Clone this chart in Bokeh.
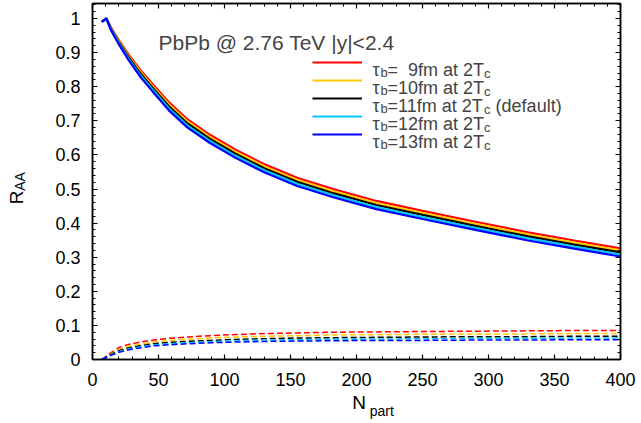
from bokeh.plotting import figure
from bokeh.models import Range1d, LinearAxis, FixedTicker, Label, Legend, LegendItem
from bokeh.embed import file_html
from bokeh.resources import INLINE

# ---------------- data ----------------
npart = [7, 10.5, 14, 20, 27, 36, 46, 58, 72, 89, 108, 130, 155, 183, 215, 250, 290, 330, 365, 400]

raa_09 = [0.990, 1.000, 0.974, 0.936, 0.896, 0.850, 0.806, 0.754, 0.704, 0.659, 0.616, 0.573, 0.533, 0.499, 0.465, 0.436, 0.404, 0.373, 0.349, 0.326]
raa_10 = [0.990, 1.000, 0.972, 0.933, 0.892, 0.845, 0.800, 0.748, 0.698, 0.653, 0.610, 0.567, 0.527, 0.493, 0.459, 0.430, 0.398, 0.367, 0.343, 0.320]
raa_11 = [0.990, 1.000, 0.970, 0.930, 0.888, 0.840, 0.795, 0.742, 0.692, 0.647, 0.604, 0.561, 0.521, 0.487, 0.453, 0.424, 0.392, 0.361, 0.337, 0.314]
raa_12 = [0.990, 1.000, 0.968, 0.927, 0.884, 0.835, 0.790, 0.736, 0.686, 0.641, 0.598, 0.555, 0.515, 0.481, 0.447, 0.418, 0.386, 0.355, 0.331, 0.308]
raa_13 = [0.990, 1.000, 0.966, 0.924, 0.880, 0.830, 0.784, 0.730, 0.680, 0.635, 0.592, 0.549, 0.509, 0.475, 0.441, 0.412, 0.380, 0.349, 0.325, 0.302]

reg_09 = [0.000, 0.010, 0.020, 0.035, 0.044, 0.051, 0.057, 0.062, 0.066, 0.070, 0.073, 0.076, 0.078, 0.080, 0.081, 0.082, 0.083, 0.084, 0.085, 0.085]
reg_10 = [0.000, 0.008, 0.017, 0.030, 0.039, 0.045, 0.051, 0.056, 0.059, 0.063, 0.066, 0.068, 0.070, 0.072, 0.073, 0.074, 0.075, 0.075, 0.076, 0.076]
reg_11 = [0.000, 0.007, 0.015, 0.026, 0.034, 0.040, 0.046, 0.050, 0.053, 0.056, 0.059, 0.061, 0.063, 0.064, 0.065, 0.066, 0.067, 0.067, 0.068, 0.068]
reg_12 = [0.000, 0.006, 0.013, 0.023, 0.031, 0.037, 0.043, 0.046, 0.049, 0.052, 0.055, 0.057, 0.058, 0.059, 0.060, 0.061, 0.062, 0.062, 0.063, 0.063]
reg_13 = [0.000, 0.006, 0.012, 0.021, 0.028, 0.034, 0.040, 0.043, 0.046, 0.049, 0.051, 0.053, 0.054, 0.055, 0.056, 0.056, 0.057, 0.057, 0.058, 0.058]

series_colors = ["#ff0000", "#ffc800", "#000000", "#00c8ff", "#0000ff"]
series_tau = ["\u00a0\u00a09", "10", "11", "12", "13"]
series_extra = ["", "", "\u00a0(default)", "", ""]

x_ticks = [0, 50, 100, 150, 200, 250, 300, 350, 400]
x_tick_labels = ["0", "50", "100", "150", "200", "250", "300", "350", "400"]
x_minor = list(range(0, 401, 10))
y_ticks = [0.0, 0.1, 0.2, 0.3, 0.4, 0.5, 0.6, 0.7, 0.8, 0.9, 1.0]
y_tick_labels = ["0", "0.1", "0.2", "0.3", "0.4", "0.5", "0.6", "0.7", "0.8", "0.9", "1"]
y_minor = [round(0.02 * i, 2) for i in range(53)]

title_text = "PbPb @ 2.76 TeV |y|<2.4"
x_title, x_title_sub = "N", "part"
y_title, y_title_sub = "R", "AA"

FONT = "Liberation Sans"
NB = "\u00a0"

# ---------------- figure ----------------
p = figure(width=636, height=421, x_range=Range1d(0, 400), y_range=Range1d(0, 1.044),
           output_backend="svg", toolbar_location=None,
           min_border_left=92, min_border_right=16, min_border_top=3, min_border_bottom=62)
p.xgrid.visible = False
p.ygrid.visible = False
p.outline_line_color = "black"
p.outline_line_width = 1.5
p.background_fill_color = "white"
p.border_fill_color = "white"


def style_axis(ax, ticks, minor, labels, show):
    ax.ticker = FixedTicker(ticks=ticks, minor_ticks=minor)
    ax.major_tick_in = 5
    ax.major_tick_out = 0
    ax.minor_tick_in = 3
    ax.minor_tick_out = 0
    ax.axis_line_color = "black"
    ax.axis_line_width = 1.5
    ax.major_tick_line_color = "black"
    ax.major_tick_line_width = 1.2
    ax.minor_tick_line_color = "black"
    ax.minor_tick_line_width = 1
    ax.axis_label_text_font = FONT
    ax.axis_label_text_font_style = "normal"
    ax.axis_label_text_color = "black"
    if show:
        ax.major_label_overrides = {t: l for t, l in zip(ticks, labels)}
        ax.major_label_text_font = FONT
        ax.major_label_text_font_size = "18px"
        ax.major_label_text_color = "black"
    else:
        ax.major_label_text_font_size = "0px"
        ax.major_label_standoff = 0


def blank_axis(label, size, standoff):
    ax = LinearAxis(ticker=FixedTicker(ticks=[]), axis_line_alpha=0,
                    major_tick_in=0, major_tick_out=0, minor_tick_in=0, minor_tick_out=0,
                    major_label_text_font_size="0px", major_label_standoff=0,
                    axis_label=label, axis_label_text_font=FONT,
                    axis_label_text_font_style="normal", axis_label_text_color="black",
                    axis_label_text_font_size=size, axis_label_standoff=standoff)
    return ax


xax = p.xaxis[0]
yax = p.yaxis[0]
style_axis(xax, x_ticks, x_minor, x_tick_labels, True)
style_axis(yax, y_ticks, y_minor, y_tick_labels, True)
xax.major_label_standoff = 13
yax.major_label_standoff = 12
xax.axis_label = NB + x_title
xax.axis_label_text_font_size = "19px"
xax.axis_label_standoff = 3
yax.axis_label = y_title + NB * 6
yax.axis_label_text_font_size = "19px"
yax.axis_label_standoff = 25

top_ax = LinearAxis()
right_ax = LinearAxis()
style_axis(top_ax, x_ticks, x_minor, x_tick_labels, False)
style_axis(right_ax, y_ticks, y_minor, y_tick_labels, False)
p.add_layout(top_ax, "above")
p.add_layout(right_ax, "right")
p.add_layout(blank_axis(NB * 13 + x_title_sub, "14px", -13), "below")
p.add_layout(blank_axis(y_title_sub, "14px", -24), "left")

# ---------------- curves ----------------
solid = [raa_09, raa_10, raa_11, raa_12, raa_13]
dashed = [reg_09, reg_10, reg_11, reg_12, reg_13]
solid_renderers = []
for ys, col in zip(dashed, series_colors):
    p.line(npart, ys, line_color=col, line_width=1.5, line_dash="6 3")
for ys, col in zip(solid, series_colors):
    r = p.line(npart, ys, line_color=col, line_width=2.2)
    solid_renderers.append(r)

# ---------------- legend (keys drawn by Bokeh, texts as labels) ----------------
# frame origin (bottom-left) is page (92, 359)
row0 = 62.3
row_h = 18
leg = Legend(items=[LegendItem(label=" ", renderers=[r]) for r in solid_renderers],
             location=(220, 359 - (row0 - row_h / 2) - 5 * row_h),
             orientation="vertical", glyph_width=50, glyph_height=row_h,
             label_height=row_h, label_width=0, label_standoff=0, spacing=0,
             padding=0, margin=0, border_line_alpha=0, background_fill_alpha=0,
             label_text_font_size="1px")
p.add_layout(leg)

main_w = 96.6  # width of "=10fm at 2T" at 18px
for i, (tau, extra) in enumerate(zip(series_tau, series_extra)):
    yc = row0 + i * row_h
    base = 359 - (yc + 7)
    p.add_layout(Label(x=372 - 92, y=base, x_units="screen", y_units="screen", text="\u03c4",
                       text_font=FONT, text_font_size="18px", text_baseline="alphabetic"))
    p.add_layout(Label(x=380 - 92, y=base - 3, x_units="screen", y_units="screen", text="b",
                       text_font=FONT, text_font_size="13px", text_baseline="alphabetic"))
    p.add_layout(Label(x=387 - 92, y=base, x_units="screen", y_units="screen",
                       text="=" + tau + "fm at 2T",
                       text_font=FONT, text_font_size="18px", text_baseline="alphabetic"))
    p.add_layout(Label(x=387 + main_w - 92, y=base - 4, x_units="screen", y_units="screen", text="c",
                       text_font=FONT, text_font_size="13px", text_baseline="alphabetic"))
    if extra:
        p.add_layout(Label(x=387 + main_w + 6.5 - 92, y=base, x_units="screen", y_units="screen",
                           text=extra, text_font=FONT, text_font_size="18px",
                           text_baseline="alphabetic"))

# ---------------- title ----------------
p.add_layout(Label(x=158 - 92, y=359 - 42, x_units="screen", y_units="screen", text=title_text,
                   text_font=FONT, text_font_size="21px", text_baseline="alphabetic"))

open("out.html", "w").write(file_html(p, INLINE))
